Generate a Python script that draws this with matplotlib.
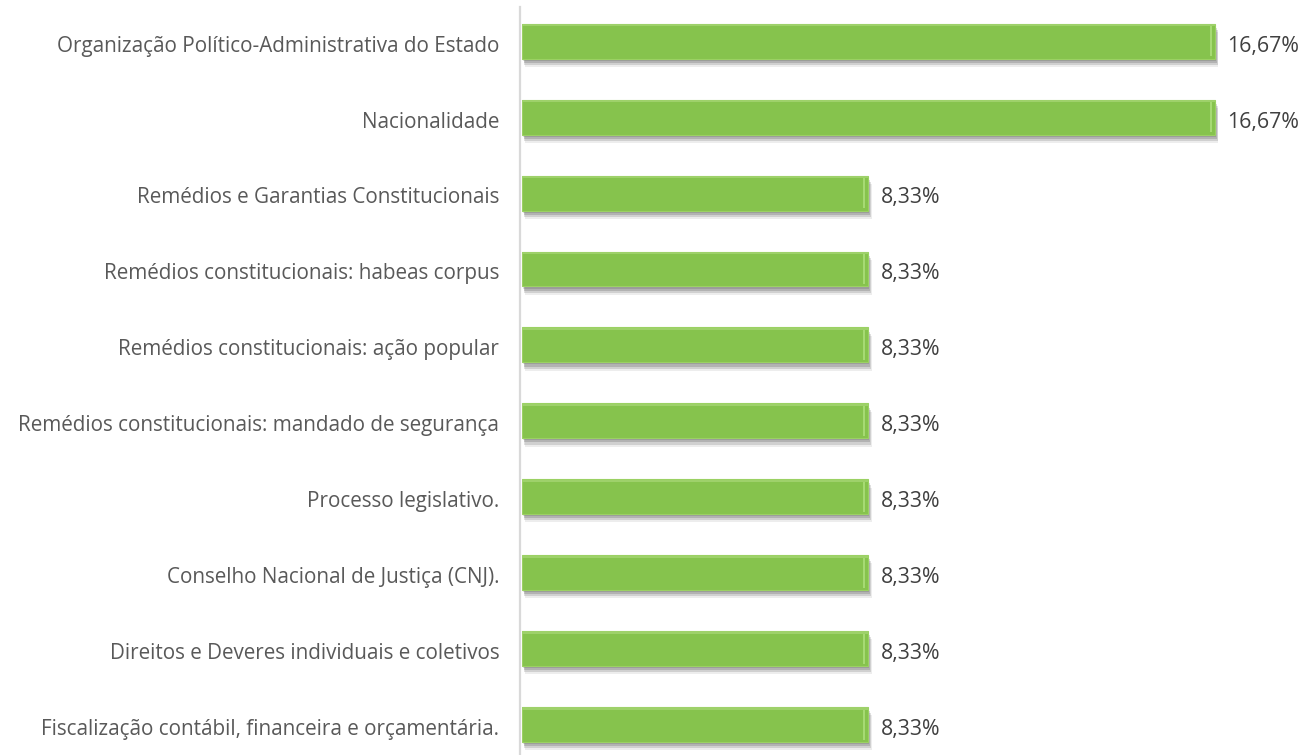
import matplotlib
matplotlib.use("Agg")
import matplotlib.pyplot as plt
import matplotlib.patheffects as pe
from matplotlib.lines import Line2D

categories = [
    "Organização Político-Administrativa do Estado",
    "Nacionalidade",
    "Remédios e Garantias Constitucionais",
    "Remédios constitucionais: habeas corpus",
    "Remédios constitucionais: ação popular",
    "Remédios constitucionais: mandado de segurança",
    "Processo legislativo.",
    "Conselho Nacional de Justiça (CNJ).",
    "Direitos e Deveres individuais e coletivos",
    "Fiscalização contábil, financeira e orçamentária.",
]
values = [16.67, 16.67, 8.33, 8.33, 8.33, 8.33, 8.33, 8.33, 8.33, 8.33]
value_labels = ["16,67%", "16,67%", "8,33%", "8,33%", "8,33%", "8,33%",
                "8,33%", "8,33%", "8,33%", "8,33%"]

W, H = 1316, 755
fig = plt.figure(figsize=(W / 100, H / 100), dpi=100)
fig.patch.set_facecolor("white")

ax_left_px = 521.5
px_per_unit = (1215 - 521.5) / 16.67
ax = fig.add_axes([ax_left_px / W, 0, (W - ax_left_px) / W, 1])
ax.set_xlim(0, (W - ax_left_px) / px_per_unit)

row_h = 75.9
first_c = 41.3
ax.set_ylim((H - first_c) / row_h, -first_c / row_h)
for s in ax.spines.values():
    s.set_visible(False)
ax.set_xticks([])
ax.set_yticks([])

ypos = list(range(len(categories)))
green = "#86C34D"
shadow = [
    pe.SimplePatchShadow(offset=(1, -1.5), shadow_rgbFace="black", alpha=0.12),
    pe.SimplePatchShadow(offset=(1.5, -3), shadow_rgbFace="black", alpha=0.14),
    pe.SimplePatchShadow(offset=(2, -4.5), shadow_rgbFace="black", alpha=0.12),
    pe.SimplePatchShadow(offset=(2.5, -6), shadow_rgbFace="black", alpha=0.07),
    pe.Normal(),
]
bars = ax.barh(ypos, values, height=0.46, color=green, edgecolor="#9BD163",
               linewidth=0.8, zorder=3)
for b in bars:
    b.set_path_effects(shadow)

# bevel highlight near right end and top
stripe_w = 2.0 / px_per_unit
ax.barh(ypos, [stripe_w] * len(values),
        left=[v - 5.0 / px_per_unit for v in values],
        height=0.40, color="#A6DA73", linewidth=0, zorder=4)
ax.barh([y - 0.21 for y in ypos], values, height=0.03, color="#9ED16A",
        linewidth=0, zorder=4)

text_dy = -3.5  # points; labels sit slightly below bar centre
for y, v, lab in zip(ypos, values, value_labels):
    ax.annotate(lab, (v, y), xytext=(9, text_dy), textcoords="offset points",
                va="center", ha="left", fontsize=15.3, color="#404040",
                family="Open Sans", zorder=5, annotation_clip=False)

for y, cat in zip(ypos, categories):
    ax.annotate(cat, (0, y), xytext=(-16, text_dy), textcoords="offset points",
                va="center", ha="right", fontsize=14.9, color="#595959",
                family="Open Sans", annotation_clip=False)

# vertical axis line
fig.add_artist(Line2D([519.5 / W, 519.5 / W], [0, 1 - 7 / H],
                      transform=fig.transFigure, color="#D9D9D9", linewidth=1.6))

fig.savefig("out.png", dpi=100, facecolor="white")
